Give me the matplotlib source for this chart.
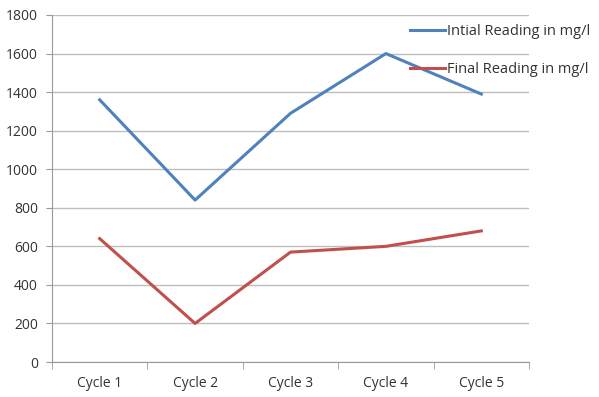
import matplotlib.pyplot as plt

plt.rcParams['font.family'] = ['Open Sans', 'DejaVu Sans']

cycles = ['Cycle 1', 'Cycle 2', 'Cycle 3', 'Cycle 4', 'Cycle 5']
initial = [1360, 840, 1290, 1600, 1390]
final = [640, 200, 570, 600, 680]

fig = plt.figure(figsize=(5.99, 3.97), dpi=100)
ax = fig.add_axes([52 / 599, 1 - 362 / 397, 477 / 599, 347 / 397])

x = range(len(cycles))
ax.plot(x, initial, color='#4F81BD', lw=2.2, label='Intial Reading in mg/l')
ax.plot(x, final, color='#C0504D', lw=2.2, label='Final Reading in mg/l')

ax.set_xlim(-0.5, len(cycles) - 0.5)
ax.set_ylim(0, 1800)
ax.set_yticks(range(0, 1801, 200))
ax.yaxis.grid(True, color='#BDBDBD', lw=1)
ax.set_axisbelow(True)

# category labels centred, tick marks between categories
ax.set_xticks(list(x))
ax.set_xticklabels(cycles)
ax.set_xticks([i - 0.5 for i in range(len(cycles) + 1)], minor=True)
ax.tick_params(axis='x', which='major', length=0, pad=10)
ax.tick_params(axis='x', which='minor', length=5, color='#999999')
ax.tick_params(axis='y', length=4, color='#999999', pad=6)
ax.tick_params(labelsize=10, labelcolor='#333333')

for s in ['top', 'right']:
    ax.spines[s].set_visible(False)
for s in ['left', 'bottom']:
    ax.spines[s].set_color('#999999')

fig.legend(loc='upper left', bbox_to_anchor=(410 / 599, 1 - 24 / 397),
           frameon=False, fontsize=10.5, borderpad=0, borderaxespad=0,
           handlelength=2.4, handletextpad=0.15, labelspacing=1.6,
           labelcolor='#333333')

fig.savefig('out.png', dpi=100)
